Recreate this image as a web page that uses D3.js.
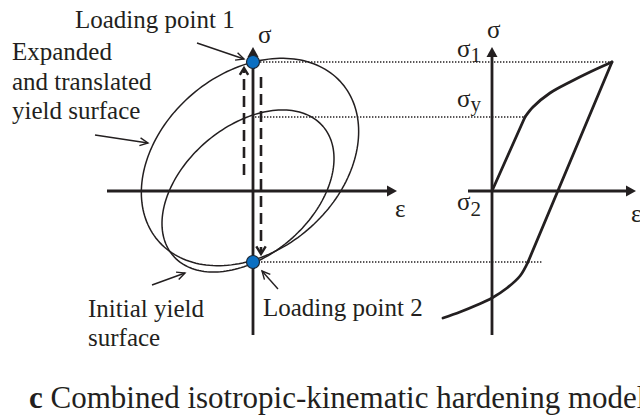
<!DOCTYPE html>
<html><head><meta charset="utf-8">
<script src="https://cdn.jsdelivr.net/npm/d3@7"></script>
</head><body style="margin:0">
<svg id="s" width="640" height="418"></svg>
<script>
// ---- Yield surfaces in stress space (plot units) ----
const initialCenter = [-0.05, 0.0];
const initialAxes = [0.99, 0.645];
const initialTilt = 40.75;            // degrees
const expandedCenter = [-0.03, 0.29];
const expandedAxes = [1.21, 0.89];
const expandedTilt = 40.5;

// ---- Loading points on the σ axis ----
const loadingPoints = [[0, 1.29], [0, -0.71]];

// ---- Stress levels: σ1, σy, σ2 ----
const stressLevels = [1.29, 0.74, -0.71];
const stressSubscripts = ["1", "y", "2"];

// ---- Uniaxial stress-strain response ----
const elasticStrain = [0, 0.33];
const elasticStress = [0, 0.74];
const hardeningStrain = [0.33, 0.41, 0.58, 0.78, 0.98, 1.20];
const hardeningStress = [0.74, 0.84, 0.98, 1.09, 1.19, 1.29];
const unloadStrain = [1.20, 0.36];
const unloadStress = [1.29, -0.71];
const reverseStrain = [0.36, 0.28, 0.15, 0.0, -0.15, -0.32, -0.49];
const reverseStress = [-0.71, -0.85, -0.97, -1.07, -1.14, -1.21, -1.27];

const ink = "#231f20";
const face = '"Times New Roman", "Liberation Serif", Tinos, FreeSerif, "Nimbus Roman", serif';
const svg = d3.select("#s");

// shared stress scale, one strain scale per panel
const yS = d3.scaleLinear().domain([-1.5, 1.5]).range([341, 41]);
const xL = d3.scaleLinear().domain([-1.5, 1.5]).range([103, 403]);
const xR = d3.scaleLinear().domain([-0.5, 1.5]).range([442, 642]);

// ---------- helpers ----------
function filledArrow(g, x1, y1, x2, y2, len, half, width) {
  const ang = Math.atan2(y2 - y1, x2 - x1);
  const bx = x2 - len * Math.cos(ang), by = y2 - len * Math.sin(ang);
  g.append("line").attr("x1", x1).attr("y1", y1).attr("x2", bx).attr("y2", by)
    .attr("stroke", ink).attr("stroke-width", width);
  const px = -Math.sin(ang) * half, py = Math.cos(ang) * half;
  g.append("path")
    .attr("d", `M${x2},${y2}L${bx + px},${by + py}L${bx - px},${by - py}Z`)
    .attr("fill", ink);
}
function chevron(g, x, y, ang, len, spread, width) {
  const a1 = ang + Math.PI - spread, a2 = ang + Math.PI + spread;
  g.append("path")
    .attr("d", `M${x + len * Math.cos(a1)},${y + len * Math.sin(a1)}L${x},${y}L${x + len * Math.cos(a2)},${y + len * Math.sin(a2)}`)
    .attr("fill", "none").attr("stroke", ink).attr("stroke-width", width)
    .attr("stroke-linejoin", "miter");
}
function pointer(g, x1, y1, x2, y2) {
  g.append("line").attr("x1", x1).attr("y1", y1).attr("x2", x2).attr("y2", y2)
    .attr("stroke", ink).attr("stroke-width", 1.4);
  chevron(g, x2, y2, Math.atan2(y2 - y1, x2 - x1), 9, 0.45, 1.4);
}
function ellipsePoints(c, ax, tilt) {
  const th = tilt * Math.PI / 180;
  return d3.range(0, 361, 2).map(d => {
    const t = d * Math.PI / 180;
    return [c[0] + ax[0] * Math.cos(t) * Math.cos(th) - ax[1] * Math.sin(t) * Math.sin(th),
            c[1] + ax[0] * Math.cos(t) * Math.sin(th) + ax[1] * Math.sin(t) * Math.cos(th)];
  });
}

// ---------- dotted stress-level guides ----------
const guides = svg.append("g");
const guideStart = [0.07, 0.02, 0.05];           // left-panel strain where each guide starts
const guideEnd = [1.20, 0.33, 0.50];             // right-panel strain where each guide ends
stressLevels.forEach((s, i) => {
  guides.append("line")
    .attr("x1", xL(guideStart[i])).attr("x2", xR(guideEnd[i]))
    .attr("y1", yS(s)).attr("y2", yS(s))
    .attr("stroke", ink).attr("stroke-width", 1.4)
    .attr("stroke-dasharray", "1.4,1.6");
});

// ---------- left panel: yield surfaces ----------
const left = svg.append("g");
const eLine = d3.line().x(d => xL(d[0])).y(d => yS(d[1])).curve(d3.curveLinearClosed);
[[initialCenter, initialAxes, initialTilt], [expandedCenter, expandedAxes, expandedTilt]]
  .forEach(([c, ax, tilt]) => {
    left.append("path").attr("d", eLine(ellipsePoints(c, ax, tilt)))
      .attr("fill", "none").attr("stroke", ink).attr("stroke-width", 1.5);
  });

filledArrow(left, xL(-1.46), yS(0), xL(1.44), yS(0), 10, 5.5, 2.8);
filledArrow(left, xL(0), yS(-1.44), xL(0), yS(1.44), 10, 5.5, 2.8);

// dashed load paths
left.append("line").attr("x1", xL(-0.09)).attr("x2", xL(-0.09))
  .attr("y1", yS(0.16)).attr("y2", yS(1.22))
  .attr("stroke", ink).attr("stroke-width", 2.6).attr("stroke-dasharray", "11,6");
chevron(left, xL(-0.09), yS(1.23), -Math.PI / 2, 8, 0.55, 2.4);
left.append("line").attr("x1", xL(0.08)).attr("x2", xL(0.08))
  .attr("y1", yS(1.14)).attr("y2", yS(-0.62))
  .attr("stroke", ink).attr("stroke-width", 2.6).attr("stroke-dasharray", "11,6");
chevron(left, xL(0.08), yS(-0.63), Math.PI / 2, 9, 0.55, 2.4);

left.selectAll("circle.lp").data(loadingPoints).join("circle")
  .attr("class", "lp")
  .attr("cx", d => xL(d[0])).attr("cy", d => yS(d[1])).attr("r", 6.5)
  .attr("fill", "#0b6fc2").attr("stroke", "#1b2633").attr("stroke-width", 1.2);

pointer(left, 197, 43, 244, 59);
pointer(left, 95, 135, 148, 143);
pointer(left, 152, 285, 185, 273);
pointer(left, 278, 289, 262, 271);

// ---------- right panel: stress-strain response ----------
const right = svg.append("g");
const zip = (a, b) => a.map((v, i) => [v, b[i]]);
const lin = d3.line().x(d => xR(d[0])).y(d => yS(d[1]));
const smooth = d3.line().x(d => xR(d[0])).y(d => yS(d[1])).curve(d3.curveCatmullRom.alpha(0.5));
const curveStyle = p => p.attr("fill", "none").attr("stroke", ink).attr("stroke-width", 2.8)
  .attr("stroke-linecap", "round").attr("stroke-linejoin", "round");
right.append("path").attr("d", lin(zip(elasticStrain, elasticStress))).call(curveStyle);
right.append("path").attr("d", smooth(zip(hardeningStrain, hardeningStress))).call(curveStyle);
right.append("path").attr("d", lin(zip(unloadStrain, unloadStress))).call(curveStyle);
right.append("path").attr("d", smooth(zip(reverseStrain, reverseStress))).call(curveStyle);

filledArrow(right, xR(-0.24), yS(0), xR(1.44), yS(0), 10, 5.5, 2.8);
filledArrow(right, xR(0), yS(-1.44), xR(0), yS(1.44), 10, 5.5, 2.8);

// ---------- all text labels ----------
const textLayout = [
  {x: 75, y: 28, size: 25, t: "Loading point 1"},
  {x: 12, y: 60, size: 25, t: "Expanded"},
  {x: 12, y: 89.5, size: 25, t: "and translated"},
  {x: 12, y: 119, size: 25, t: "yield surface"},
  {x: 88, y: 317, size: 25, t: "Initial yield"},
  {x: 88, y: 345.5, size: 25, t: "surface"},
  {x: 263, y: 316, size: 25, t: "Loading point 2"},
  {x: 258, y: 43, size: 25, t: "σ"},
  {x: 395, y: 217, size: 25, t: "ε"},
  {x: 487, y: 38, size: 25, t: "σ"},
  {x: 631, y: 222, size: 25, t: "ε"},
  {x: 457, y: 57, size: 25, t: "σ"},
  {x: 457, y: 107, size: 25, t: "σ"},
  {x: 457, y: 210, size: 25, t: "σ"},
  {x: 29, y: 408, size: 31, t: ""}
];
const texts = svg.selectAll("text").data(textLayout).join("text")
  .attr("x", d => d.x).attr("y", d => d.y)
  .attr("font-family", face)
  .style("font", d => `${d.size}px ${face}`)
  .attr("fill", ink)
  .text(d => d.t);

// subscripts 1, y, 2 after the σ labels on the right axis
const subShift = [5, 4, 6];
texts.filter((d, i) => i >= 11 && i <= 13).each(function (d, k) {
  d3.select(this).append("tspan").style("font-size", "21px").attr("dy", subShift[k])
    .text(stressSubscripts[k]);
});

// caption: bold panel letter then title
const cap = texts.filter((d, i) => i === 14);
cap.append("tspan").style("font-weight", "bold").text("c");
cap.append("tspan").text(" Combined isotropic-kinematic hardening model");
</script></body></html>
